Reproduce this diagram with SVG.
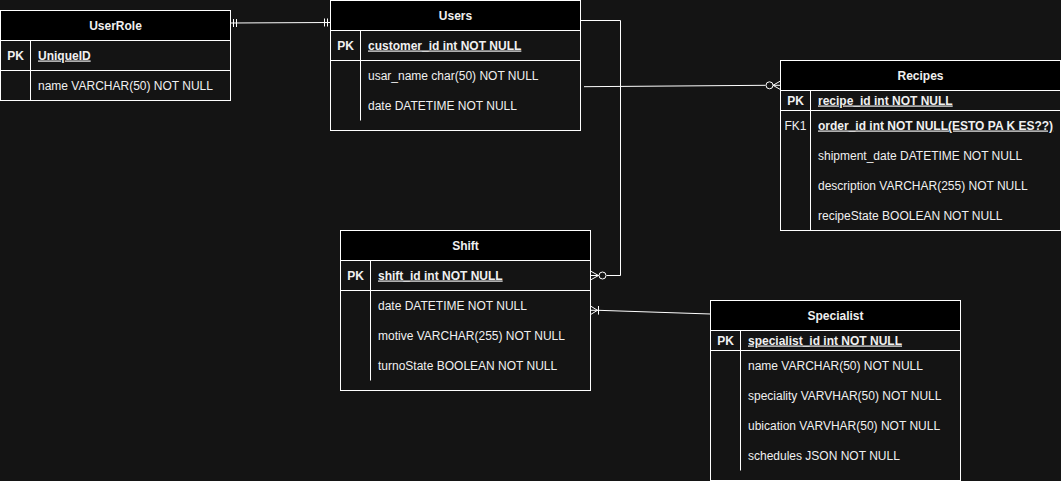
<svg xmlns="http://www.w3.org/2000/svg" width="1061" height="481" viewBox="0 0 1061 481">
<style>
text{font-family:"Liberation Sans",Arial,sans-serif;font-size:12px;fill:#f0f0f0}
.t{font-weight:bold;text-anchor:middle}
.k{font-weight:bold;text-decoration:underline}
.pk{font-weight:bold;text-anchor:middle}
.lb{text-anchor:middle}
.box{fill:none;stroke:#ffffff;stroke-width:1}
.hd{fill:#000000;stroke:#ffffff;stroke-width:1}
.ln{fill:none;stroke:#ffffff;stroke-width:1}
.cn{fill:none;stroke:#ffffff;stroke-width:1}
</style>
<rect x="0" y="0" width="1061" height="481" fill="#141414"/>

<g id="UserRole">
<rect class="box" x="0.5" y="10.5" width="230" height="90"/>
<rect class="hd" x="0.5" y="10.5" width="230" height="30"/>
<line class="ln" x1="0.5" y1="70.5" x2="230.5" y2="70.5"/>
<line class="ln" x1="30.5" y1="40.5" x2="30.5" y2="100.5"/>
<text class="t" x="115.5" y="29.5">UserRole</text>
<text class="pk" x="15.5" y="59.5">PK</text>
<text class="k" x="38" y="59.5">UniqueID</text>
<text x="38" y="89.5">name VARCHAR(50) NOT NULL</text>
</g>

<g id="Users">
<rect class="box" x="330.5" y="0.5" width="250" height="130"/>
<rect class="hd" x="330.5" y="0.5" width="250" height="30"/>
<line class="ln" x1="330.5" y1="60.5" x2="580.5" y2="60.5"/>
<line class="ln" x1="360.5" y1="30.5" x2="360.5" y2="120.5"/>
<text class="t" x="455.5" y="19.5">Users</text>
<text class="pk" x="345.5" y="49.5">PK</text>
<text class="k" x="368" y="49.5">customer_id int NOT NULL</text>
<text x="368" y="79.5">usar_name char(50) NOT NULL</text>
<text x="368" y="109.5">date DATETIME NOT NULL</text>
</g>

<g id="Recipes">
<rect class="box" x="780.5" y="60.5" width="280" height="170"/>
<rect class="hd" x="780.5" y="60.5" width="280" height="30"/>
<line class="ln" x1="780.5" y1="110.5" x2="1060.5" y2="110.5"/>
<line class="ln" x1="810.5" y1="90.5" x2="810.5" y2="230.5"/>
<text class="t" x="920.5" y="79.5">Recipes</text>
<text class="pk" x="795.5" y="104.5">PK</text>
<text class="k" x="818" y="104.5">recipe_id int NOT NULL</text>
<text class="lb" x="795.5" y="129.5">FK1</text>
<text class="k" x="818" y="129.5">order_id int NOT NULL(ESTO PA K ES??)</text>
<text x="818" y="159.5">shipment_date DATETIME NOT NULL</text>
<text x="818" y="189.5">description VARCHAR(255) NOT NULL</text>
<text x="818" y="219.5">recipeState BOOLEAN NOT NULL</text>
</g>

<g id="Shift">
<rect class="box" x="340.5" y="230.5" width="250" height="160"/>
<rect class="hd" x="340.5" y="230.5" width="250" height="30"/>
<line class="ln" x1="340.5" y1="290.5" x2="590.5" y2="290.5"/>
<line class="ln" x1="370.5" y1="260.5" x2="370.5" y2="380.5"/>
<text class="t" x="465.5" y="249.5">Shift</text>
<text class="pk" x="355.5" y="279.5">PK</text>
<text class="k" x="378" y="279.5">shift_id int NOT NULL</text>
<text x="378" y="309.5">date DATETIME NOT NULL</text>
<text x="378" y="339.5">motive VARCHAR(255) NOT NULL</text>
<text x="378" y="369.5">turnoState BOOLEAN NOT NULL</text>
</g>

<g id="Specialist">
<rect class="box" x="710.5" y="300.5" width="250" height="180"/>
<rect class="hd" x="710.5" y="300.5" width="250" height="30"/>
<line class="ln" x1="710.5" y1="350.5" x2="960.5" y2="350.5"/>
<line class="ln" x1="740.5" y1="330.5" x2="740.5" y2="470.5"/>
<text class="t" x="835.5" y="319.5">Specialist</text>
<text class="pk" x="725.5" y="344.5">PK</text>
<text class="k" x="748" y="344.5">specialist_id int NOT NULL</text>
<text x="748" y="369.5">name VARCHAR(50) NOT NULL</text>
<text x="748" y="399.5">speciality VARVHAR(50) NOT NULL</text>
<text x="748" y="429.5">ubication VARVHAR(50) NOT NULL</text>
<text x="748" y="459.5">schedules JSON NOT NULL</text>
</g>

<g id="connectors">
<!-- UserRole - Users: mandatory one both ends -->
<path class="cn" d="M230.5 23 L330.5 22.5"/>
<path class="cn" d="M233.5 19 V27 M236.5 19 V27"/>
<path class="cn" d="M324.5 18.5 V26.5 M327.5 18.5 V26.5"/>
<!-- Users - Recipes: zero to many at Recipes -->
<path class="cn" d="M584 86.7 L765.5 85.3"/>
<circle class="cn" cx="769.5" cy="85.3" r="3.5" fill="#141414"/>
<path class="cn" d="M780.5 81 L773 85.3 L780.5 89.6 M773 85.3 H780.5"/>
<!-- Users - Shift: zero to many at Shift -->
<path class="cn" d="M580.5 20.5 H620.5 V275.5 H606.5"/>
<circle class="cn" cx="602.5" cy="275.5" r="3.5" fill="#141414"/>
<path class="cn" d="M590.5 271 L598.5 275.5 L590.5 280 M590.5 275.5 H599"/>
<!-- Shift - Specialist: one to many at Shift -->
<path class="cn" d="M710.5 314 L598.5 310.3"/>
<path class="cn" d="M590.5 306 L597.5 310.3 L590.5 314.6 M590.5 310.3 H598.5"/>
<path class="cn" d="M598.5 306 V314.6"/>
</g>
</svg>
